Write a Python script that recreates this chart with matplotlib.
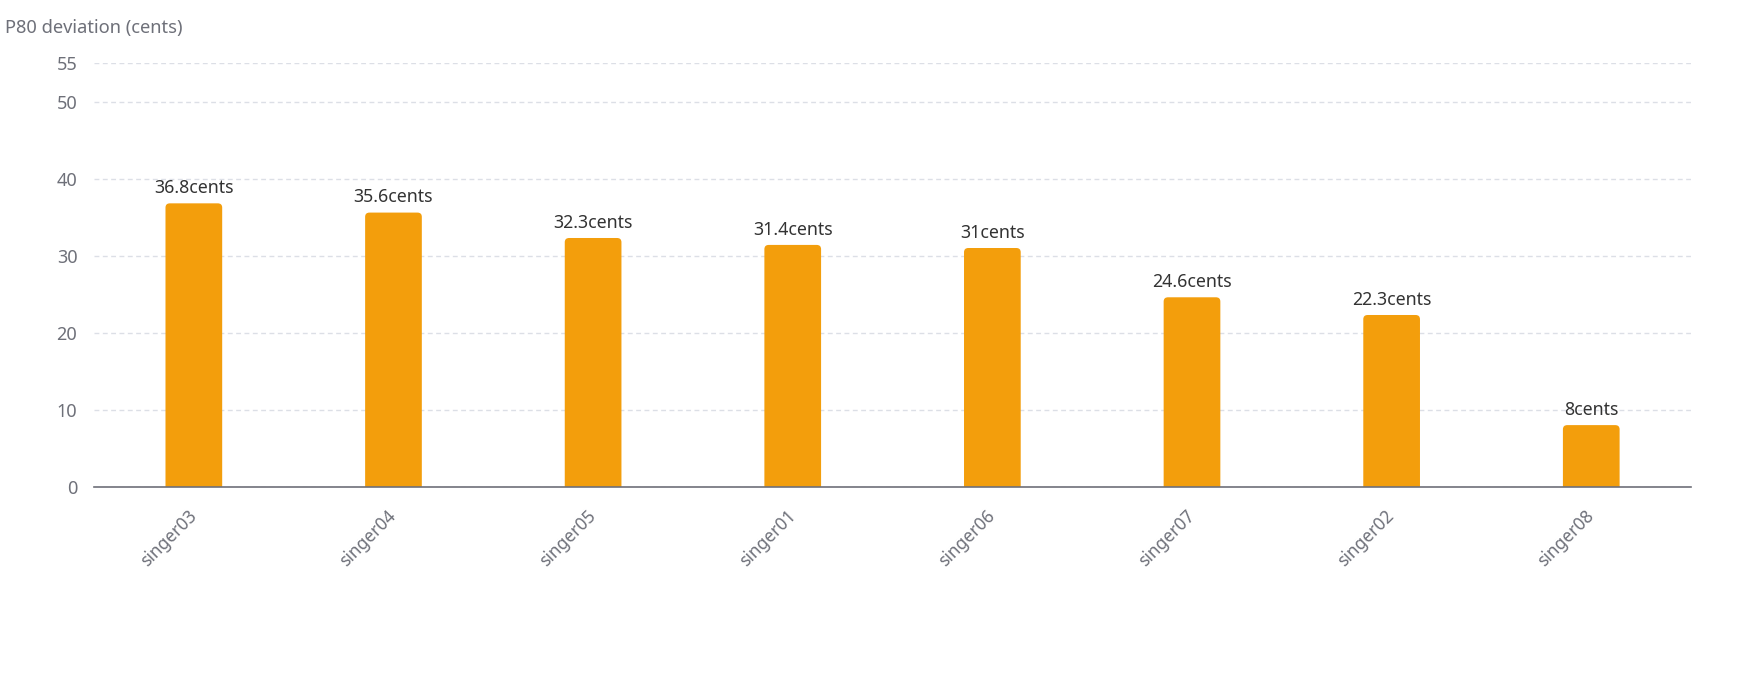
import matplotlib
matplotlib.use("Agg")
import matplotlib.pyplot as plt
from matplotlib.patches import FancyBboxPatch

# donnees
singers = ["singer03", "singer04", "singer05", "singer01", "singer06", "singer07", "singer02", "singer08"]
p80 = [36.8, 35.6, 32.3, 31.4, 31, 24.6, 22.3, 8]
value_labels = ["36.8cents", "35.6cents", "32.3cents", "31.4cents", "31cents", "24.6cents", "22.3cents", "8cents"]
ytick_vals = [0, 10, 20, 30, 40, 50, 55]

plt.rcParams['font.family'] = ['Noto Sans', 'DejaVu Sans']

fig = plt.figure(figsize=(17.38, 6.81), dpi=100)
ax = fig.add_axes([0.0541, 0.2853, 0.973 - 0.0541, 0.9072 - 0.2853])

x = list(range(len(singers)))
bars = ax.bar(x, p80, width=0.284, color="none", edgecolor="none")

# barres arrondies en haut
ax.set_xlim(-0.5, len(singers) - 0.5)
ax.set_ylim(0, 55)
for rect in bars:
    r = FancyBboxPatch((rect.get_x(), rect.get_y() - 2), rect.get_width(), rect.get_height() + 2,
                       boxstyle="round,pad=0,rounding_size=0.022", mutation_aspect=25,
                       facecolor="#F39E0C", edgecolor="none", zorder=2)
    ax.add_patch(r)

for xi, v, lab in zip(x, p80, value_labels):
    ax.annotate(lab, (xi, v), xytext=(0, 4.5), textcoords="offset points",
                ha="center", va="bottom", fontsize=12.8, color="#333333")

ax.set_yticks(ytick_vals)
ax.set_xticks(x)
ax.set_xticklabels(singers, rotation=45, ha="right", va="center", rotation_mode="anchor")
ax.tick_params(axis="y", length=0, pad=12, labelsize=13, labelcolor="#6E7079")
ax.tick_params(axis="x", length=0, pad=19, labelsize=12.5, labelcolor="#6E7079")

ax.yaxis.grid(True, color="#DCDFE6", linestyle=(0, (3.5, 2.5)), linewidth=1.0)
ax.set_axisbelow(True)
for s in ["top", "right", "left"]:
    ax.spines[s].set_visible(False)
ax.spines["bottom"].set_color("#6E7079")
ax.spines["bottom"].set_linewidth(1.2)

fig.text(5 / 1738, 1 - 28 / 681, "P80 deviation (cents)", ha="left", va="center",
         fontsize=13.2, color="#6E7079")

fig.savefig("out.png", dpi=100)
